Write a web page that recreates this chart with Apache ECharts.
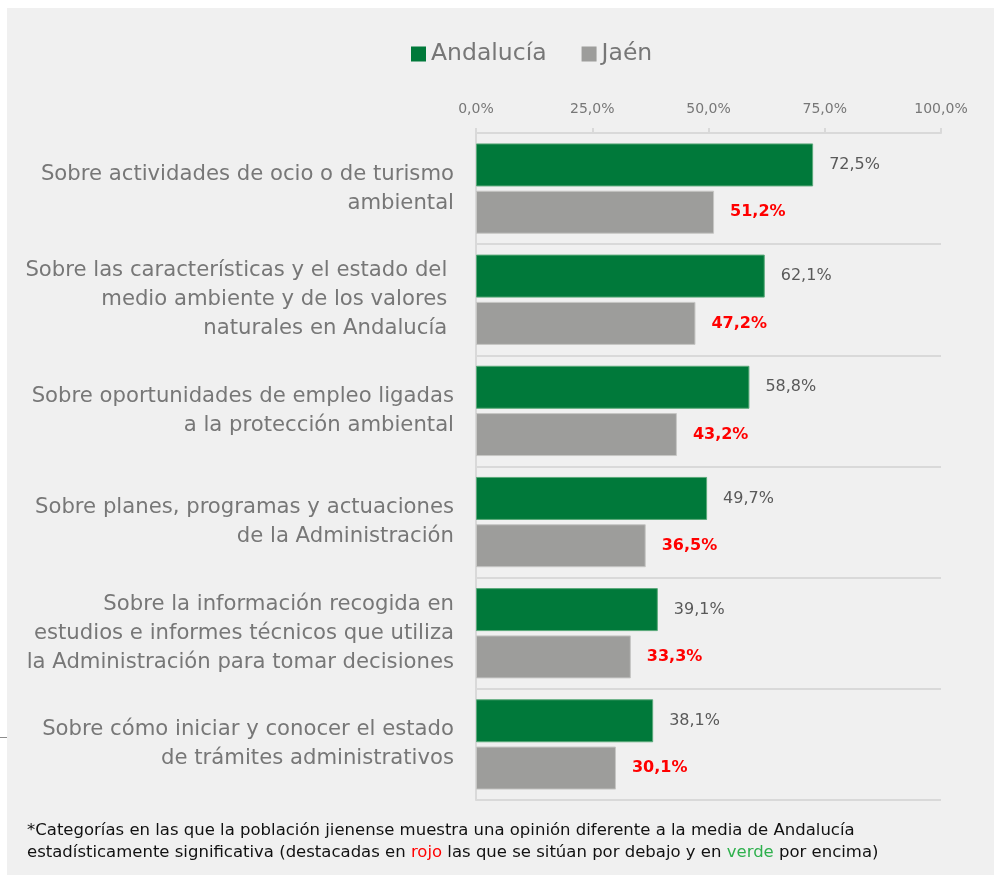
<!DOCTYPE html>
<html>
<head>
<meta charset="utf-8">
<script src="https://cdn.jsdelivr.net/npm/echarts@6/dist/echarts.min.js"></script>
<style>
  html, body { margin: 0; padding: 0; background: #ffffff; }
  #chart { width: 994px; height: 875px; }
</style>
</head>
<body>
<div id="chart"></div>
<script>
// Categories (top to bottom) and the two series
const categories = [
  'Sobre actividades de ocio o de turismo\nambiental',
  'Sobre las características y el estado del \nmedio ambiente y de los valores \nnaturales en Andalucía ',
  'Sobre oportunidades de empleo ligadas\na la protección ambiental',
  'Sobre planes, programas y actuaciones\nde la Administración',
  'Sobre la información recogida en\nestudios e informes técnicos que utiliza\nla Administración para tomar decisiones',
  'Sobre cómo iniciar y conocer el estado\nde trámites administrativos'
];
const andalucia = [72.5, 62.1, 58.8, 49.7, 39.1, 38.1];
const jaen = [51.2, 47.2, 43.2, 36.5, 33.3, 30.1];
const seriesNames = ['Andalucía', 'Jaén'];
const axisMax = 100;
const axisStep = 25;

const FONT = '"DejaVu Sans", "Noto Sans", sans-serif';
const fmt = v => v.toFixed(1).replace('.', ',') + '%';

const chart = echarts.init(document.getElementById('chart'), null, { renderer: 'canvas' });

chart.setOption({
  backgroundColor: '#ffffff',
  animation: false,
  textStyle: { fontFamily: FONT },
  graphic: [
    { type: 'rect', z: -10, shape: { x: 7, y: 8, width: 994, height: 875 }, style: { fill: '#f0f0f0' } },
    { type: 'line', z: -5, shape: { x1: 0, y1: 737.5, x2: 7, y2: 737.5 }, style: { stroke: '#8c8c8c', lineWidth: 1 } },
    {
      type: 'text', left: 27, top: 820,
      style: {
        text: '*Categorías en las que la población jienense muestra una opinión diferente a la media de Andalucía\nestadísticamente significativa (destacadas en {r|rojo} las que se sitúan por debajo y en {g|verde} por encima)',
        fontFamily: FONT, fontSize: 16.5, lineHeight: 22, fill: '#111111',
        rich: {
          r: { fill: '#ff0000', fontFamily: FONT, fontSize: 16.5, lineHeight: 22 },
          g: { fill: '#2eb04d', fontFamily: FONT, fontSize: 16.5, lineHeight: 22 }
        }
      }
    }
  ],
  legend: {
    top: 42,
    left: 411,
    itemWidth: 15,
    itemHeight: 15,
    itemGap: 35,
    icon: 'rect',
    padding: 0,
    itemStyle: { borderWidth: 0 },
    textStyle: { fontSize: 23.5, color: '#777777', fontFamily: FONT, padding: [0, 0, 0, 0] },
    data: seriesNames
  },
  grid: { left: 476, right: 53, top: 133, bottom: 75, containLabel: false },
  xAxis: {
    type: 'value',
    position: 'top',
    min: 0,
    max: axisMax,
    interval: axisStep,
    axisLine: { show: true, lineStyle: { color: '#d9d9d9', width: 2 } },
    axisTick: { show: true, length: 5, lineStyle: { color: '#d9d9d9', width: 2 } },
    splitLine: { show: false },
    axisLabel: {
      margin: 17,
      fontSize: 14,
      color: '#777777',
      fontFamily: FONT,
      formatter: v => fmt(v)
    }
  },
  yAxis: {
    type: 'category',
    inverse: true,
    data: categories,
    axisLine: { show: true, lineStyle: { color: '#d9d9d9', width: 2 } },
    axisTick: { show: false },
    splitLine: { show: true, lineStyle: { color: '#d9d9d9', width: 2 } },
    axisLabel: {
      margin: 22,
      fontSize: 21.2,
      lineHeight: 29,
      color: '#777777',
      fontFamily: FONT,
      align: 'right'
    }
  },
  series: [
    {
      name: seriesNames[0],
      type: 'bar',
      data: andalucia,
      barWidth: 43,
      barGap: '10%',
      itemStyle: { color: '#00793a', borderColor: '#5aa97a', borderWidth: 1 },
      label: {
        show: true, position: 'right', distance: 16,
        fontSize: 16, color: '#595959', fontFamily: FONT,
        formatter: p => fmt(p.value)
      }
    },
    {
      name: seriesNames[1],
      type: 'bar',
      data: jaen,
      barWidth: 43,
      barGap: '10%',
      itemStyle: { color: '#9d9d9b', borderColor: '#c6c6c4', borderWidth: 1 },
      label: {
        show: true, position: 'right', distance: 16,
        fontSize: 16, color: '#ff0000', fontWeight: 'bold', fontFamily: FONT,
        formatter: p => fmt(p.value)
      }
    }
  ]
});
</script>
</body>
</html>
